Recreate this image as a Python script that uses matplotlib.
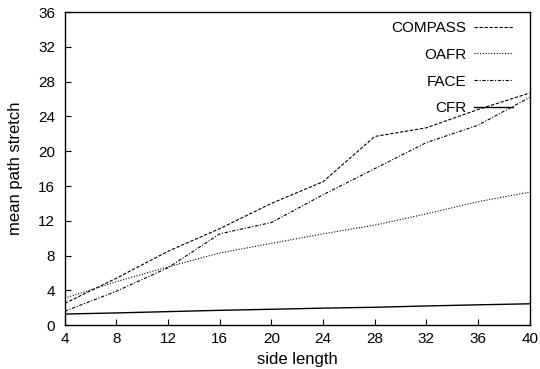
import matplotlib
matplotlib.use("Agg")
import matplotlib.pyplot as plt

plt.rcParams['font.family'] = ['Liberation Sans', 'DejaVu Sans']

side_length = [4, 8, 12, 16, 20, 24, 28, 32, 36, 40]
compass = [2.5, 5.4, 8.5, 11.1, 14.0, 16.5, 21.7, 22.7, 24.8, 26.7]
oafr = [3.1, 5.0, 6.7, 8.3, 9.4, 10.5, 11.5, 12.8, 14.2, 15.3]
face = [1.6, 3.9, 6.6, 10.5, 11.8, 15.0, 18.0, 21.0, 23.0, 26.2]
cfr = [1.27, 1.4, 1.55, 1.7, 1.82, 1.95, 2.05, 2.2, 2.33, 2.45]

x_ticks = [4, 8, 12, 16, 20, 24, 28, 32, 36, 40]
y_ticks = [0, 4, 8, 12, 16, 20, 24, 28, 32, 36]

fig = plt.figure(figsize=(5.4, 3.69), dpi=100)
ax = fig.add_axes([0.120, 0.119, 0.861, 0.848])

ax.plot(side_length, compass, color='black', lw=0.8, linestyle=(0, (3, 1.5)), label='COMPASS')
ax.plot(side_length, oafr, color='black', lw=0.8, linestyle=(0, (1, 1.5)), label='OAFR')
ax.plot(side_length, face, color='black', lw=0.8, linestyle=(0, (3, 1.5, 1, 1.5)), label='FACE')
ax.plot(side_length, cfr, color='black', lw=1.0, linestyle='-', label='CFR')

ax.set_xlim(4, 40)
ax.set_ylim(0, 36)
ax.set_xticks(x_ticks)
ax.set_yticks(y_ticks)
ax.tick_params(direction='in', length=4, width=0.8, labelsize=11, pad=5)
ax.tick_params(axis='y', pad=7)
for s in ax.spines.values():
    s.set_linewidth(1.0)

ax.set_xlabel('side length', fontsize=12, labelpad=4)
ax.set_ylabel('mean path stretch', fontsize=12, labelpad=11)

ax.legend(loc='upper right', frameon=False, markerfirst=False, fontsize=11,
          handlelength=2.5, handletextpad=0.5, labelspacing=0.84,
          borderaxespad=0, borderpad=0, bbox_to_anchor=(0.963, 0.972))

fig.savefig('out.png', dpi=100)
